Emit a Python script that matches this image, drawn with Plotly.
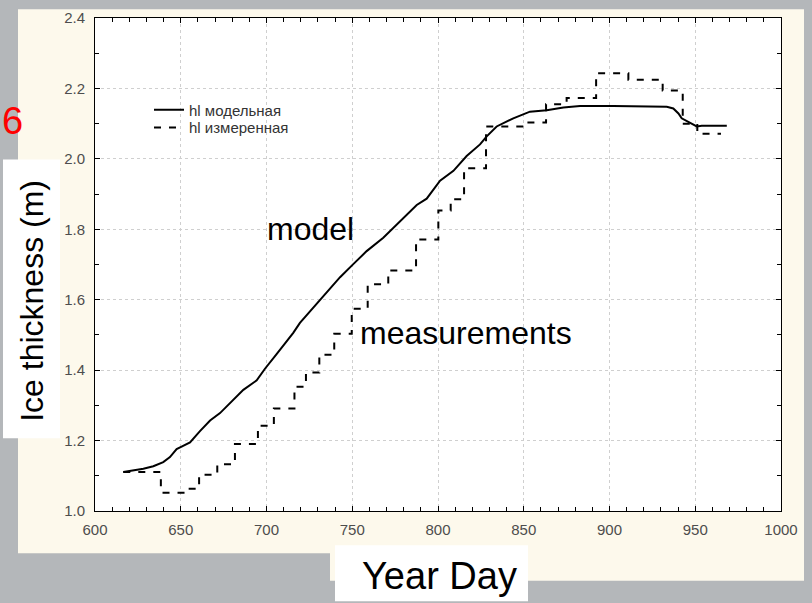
import plotly.graph_objects as go

# Modelled ice thickness (m) against year day
model_day = [616.5, 628.2, 634.0, 639.8, 643.7, 647.6, 650.5, 655.4, 661.2, 667.1,
             672.9, 678.7, 686.5, 694.3, 699.1, 706.0, 715.6, 719.5, 731.2, 742.9,
             750.6, 758.4, 768.1, 777.8, 787.6, 793.4, 801.2, 809.0, 816.7, 824.5,
             828.4, 834.2, 843.9, 853.6, 863.4, 873.1, 882.8, 902.2, 923.6, 933.4,
             937.2, 940.2, 942.1, 947.0, 950.9, 953.8, 968.4]
model_h = [1.111, 1.120, 1.127, 1.139, 1.153, 1.176, 1.183, 1.195, 1.227, 1.257,
           1.278, 1.306, 1.344, 1.371, 1.404, 1.446, 1.506, 1.534, 1.599, 1.664,
           1.701, 1.738, 1.776, 1.822, 1.869, 1.887, 1.938, 1.966, 2.008, 2.041,
           2.064, 2.092, 2.115, 2.134, 2.138, 2.146, 2.150, 2.150, 2.150, 2.148,
           2.143, 2.129, 2.115, 2.101, 2.092, 2.094, 2.094]

# Measured ice thickness (m): value holds until the next measurement day
meas_day = [616.5, 638.4, 654.0, 660.7, 671.3, 681.6, 695.0, 704.3, 716.3, 723.0,
            730.8, 739.5, 749.7, 759.0, 771.0, 787.2, 800.2, 807.4, 815.2, 828.0,
            850.7, 863.0, 875.0, 892.2, 911.0, 931.0, 942.7, 951.2, 965.0]
meas_h = [1.111, 1.052, 1.063, 1.103, 1.133, 1.190, 1.242, 1.291, 1.353, 1.393,
          1.444, 1.503, 1.574, 1.644, 1.683, 1.771, 1.853, 1.885, 1.973, 2.092,
          2.103, 2.155, 2.173, 2.243, 2.225, 2.194, 2.100, 2.071, 2.071]

series_names = ["hl модельная", "hl измеренная"]
x_ticks = [600, 650, 700, 750, 800, 850, 900, 950, 1000]
y_ticks = [1.0, 1.2, 1.4, 1.6, 1.8, 2.0, 2.2, 2.4]

W, H = 812, 603
ML, MR, MT, MB = 95, 31, 9, 92
PW, PH = W - ML - MR, H - MT - MB


def px_x(px):
    return (px - ML) / PW


def px_y(py):
    return (H - MB - py) / PH


fig = go.Figure()
fig.add_trace(go.Scatter(x=model_day, y=model_h, mode="lines", name=series_names[0],
                         legend="legend",
                         line=dict(color="black", width=2)))
fig.add_trace(go.Scatter(x=meas_day, y=meas_h, mode="lines", name=series_names[1],
                         legend="legend2",
                         line=dict(color="black", width=2, dash="7px,8px", shape="hv")))

axis_common = dict(
    ticks="inside", ticklen=5, tickcolor="black", tickwidth=1,
    showline=True, linecolor="black", linewidth=1, mirror="allticks",
    showgrid=True, gridcolor="#cfcfcf", griddash="dot", gridwidth=1,
    zeroline=False,
    tickfont=dict(family="Arial", size=15, color="#4d4d4d"),
)

fig.update_xaxes(range=[600, 1000], tickvals=x_ticks, ticktext=[str(v) for v in x_ticks],
                 minor=dict(dtick=10, tick0=600, ticks="inside", ticklen=4, tickcolor="black",
                            showgrid=False),
                 ticklabelstandoff=5, **axis_common)
fig.update_yaxes(range=[1.0, 2.4], tickvals=y_ticks, ticktext=[f"{v:.1f}" for v in y_ticks],
                 minor=dict(dtick=0.1, tick0=1.0, ticks="inside", ticklen=4, tickcolor="black",
                            showgrid=False),
                 ticklabelstandoff=6, **axis_common)

cream = "#fdf9ec"
shapes = [
    # cream panel behind the chart
    dict(type="rect", xref="paper", yref="paper", x0=px_x(18), x1=px_x(804),
         y0=px_y(554), y1=px_y(0), fillcolor=cream, line=dict(width=0), layer="below"),
    dict(type="rect", xref="paper", yref="paper", x0=px_x(330), x1=px_x(804),
         y0=px_y(582), y1=px_y(550), fillcolor=cream, line=dict(width=0), layer="below"),
    # white plotting area
    dict(type="rect", xref="paper", yref="paper", x0=0, x1=1, y0=0, y1=1,
         fillcolor="white", line=dict(width=0), layer="below"),
    # white boxes behind the axis captions
    dict(type="rect", xref="paper", yref="paper", x0=px_x(3), x1=px_x(60),
         y0=px_y(437), y1=px_y(153), fillcolor="white", line=dict(width=0), layer="below"),
    dict(type="rect", xref="paper", yref="paper", x0=px_x(335), x1=px_x(528),
         y0=px_y(603), y1=px_y(546), fillcolor="white", line=dict(width=0), layer="below"),
]

annotations = [
    dict(text="6", xref="paper", yref="paper", x=px_x(0), y=px_y(114),
         xanchor="left", yanchor="middle", showarrow=False,
         font=dict(family="Arial", size=38, color="#ff0000")),
    dict(text="Ice thickness (m)", xref="paper", yref="paper", x=px_x(32), y=px_y(297),
         xanchor="center", yanchor="middle", textangle=-90, showarrow=False,
         font=dict(family="Arial", size=32, color="black")),
    dict(text="Year Day", xref="paper", yref="paper", x=px_x(439), y=px_y(577),
         xanchor="center", yanchor="middle", showarrow=False,
         font=dict(family="Arial", size=38, color="black")),
    dict(text="model", x=699.1, y=1.802, xanchor="left", yanchor="middle", showarrow=False,
         font=dict(family="Arial", size=32, color="black")),
    dict(text="measurements", x=753.4, y=1.505, xanchor="left", yanchor="middle",
         showarrow=False, font=dict(family="Arial", size=32, color="black")),
]

legend_style = dict(xanchor="left", yanchor="top", bgcolor="rgba(0,0,0,0)", borderwidth=0,
                    itemwidth=30, font=dict(family="Arial", size=15, color="#333333"))

fig.update_layout(
    width=W, height=H,
    margin=dict(l=ML, r=MR, t=MT, b=MB, pad=0),
    paper_bgcolor="#b4b7ba",
    plot_bgcolor="rgba(0,0,0,0)",
    showlegend=True,
    legend=dict(x=px_x(149), y=px_y(86), **legend_style),
    legend2=dict(x=px_x(149), y=px_y(104), **legend_style),
    shapes=shapes,
    annotations=annotations,
)

fig.write_html("out.html")
